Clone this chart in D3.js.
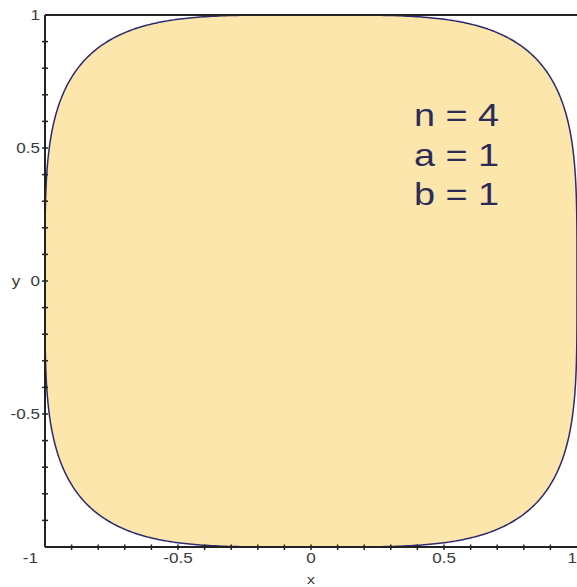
<!DOCTYPE html>
<html>
<head>
<meta charset="utf-8">
<script src="https://cdn.jsdelivr.net/npm/d3@7"></script>
<style>
  html, body { margin: 0; padding: 0; background: #ffffff; }
  svg { display: block; }
</style>
</head>
<body>
<script>
// Superellipse |x/a|^n + |y/b|^n = 1
const n = 4;
const a = 1;
const b = 1;
const paramLabels = ["n = " + n, "a = " + a, "b = " + b];

const minorTicks = [-0.9, -0.8, -0.7, -0.6, -0.5, -0.4, -0.3, -0.2, -0.1, 0,
                    0.1, 0.2, 0.3, 0.4, 0.5, 0.6, 0.7, 0.8, 0.9];
const xTickLabels = [{v: -0.5, t: "-0.5"}, {v: 0, t: "0"}, {v: 0.5, t: "0.5"}];
const yTickLabels = [{v: 1, t: "1"}, {v: 0.5, t: "0.5"}, {v: 0, t: "0"}, {v: -0.5, t: "-0.5"}];
const cornerLabel = "-1";
const rightLabel = "1";
const sampleCount = 720;

const W = 577, H = 587;
const x = d3.scaleLinear().domain([-1, 1]).range([45, 577]);
const y = d3.scaleLinear().domain([-1, 1]).range([547, 15]);

const svg = d3.select("body").append("svg")
  .attr("width", W).attr("height", H);

// Boundary points of the superellipse, traced by angle
const pts = d3.range(sampleCount + 1).map(i => {
  const t = 2 * Math.PI * i / sampleCount;
  const c = Math.cos(t), s = Math.sin(t);
  return [
    a * Math.sign(c) * Math.pow(Math.abs(c), 2 / n),
    b * Math.sign(s) * Math.pow(Math.abs(s), 2 / n)
  ];
});

const line = d3.line().x(d => x(d[0])).y(d => y(d[1]));

svg.append("path")
  .attr("d", line(pts) + "Z")
  .attr("fill", "#fce6ab")
  .attr("stroke", "#2c2a70")
  .attr("stroke-width", 1.5);

// Frame: left and bottom axes plus top edge
const axisColor = "#222222";
svg.append("line").attr("x1", x(-1)).attr("x2", x(-1)).attr("y1", y(1)).attr("y2", y(-1))
  .attr("stroke", axisColor).attr("stroke-width", 2);
svg.append("line").attr("x1", x(-1)).attr("x2", x(1)).attr("y1", y(-1)).attr("y2", y(-1))
  .attr("stroke", axisColor).attr("stroke-width", 2);
svg.append("line").attr("x1", x(-1)).attr("x2", x(1)).attr("y1", y(1)).attr("y2", y(1))
  .attr("stroke", axisColor).attr("stroke-width", 2);

// Ticks crossing the axes
svg.append("g").selectAll("line").data(minorTicks).join("line")
  .attr("x1", x(-1) - 3).attr("x2", x(-1) + 3)
  .attr("y1", d => y(d)).attr("y2", d => y(d))
  .attr("stroke", axisColor).attr("stroke-width", 1.5);
svg.append("g").selectAll("line").data(minorTicks).join("line")
  .attr("y1", y(-1) - 2.5).attr("y2", y(-1) + 3)
  .attr("x1", d => x(d)).attr("x2", d => x(d))
  .attr("stroke", axisColor).attr("stroke-width", 1.5);

const labelFont = "'Liberation Sans', Arial, sans-serif";
const labelColor = "#3a3a3a";
const stretch = 1.22;

// Text placed at (px, py), widened horizontally
function wideText(sel, px, py, size, anchor, color) {
  return sel
    .attr("transform", (d, i) => `translate(${px(d, i)},${py(d, i)}) scale(${stretch},1)`)
    .attr("text-anchor", anchor)
    .attr("font-family", labelFont).attr("font-size", size)
    .attr("fill", color);
}

wideText(svg.append("g").selectAll("text").data(yTickLabels).join("text"),
  () => x(-1) - 5, d => y(d.v) + 5, 14, "end", labelColor)
  .text(d => d.t);

wideText(svg.append("g").selectAll("text").data(xTickLabels).join("text"),
  d => x(d.v), () => 563, 14, "middle", labelColor)
  .text(d => d.t);

wideText(svg.append("text").datum(cornerLabel),
  () => x(-1) - 7, () => 563, 14, "end", labelColor)
  .text(d => d);

wideText(svg.append("text").datum(rightLabel),
  () => W, () => 563, 14, "end", labelColor)
  .text(d => d);

// Axis titles
wideText(svg.append("text").datum("y"),
  () => 16, () => y(0) + 5, 14, "middle", labelColor)
  .text(d => d);
wideText(svg.append("text").datum("x"),
  () => x(0), () => 584, 13, "middle", labelColor)
  .text(d => d);

// Parameter annotation
wideText(svg.append("g").selectAll("text").data(paramLabels).join("text"),
  () => 414, (d, i) => 126 + i * 39.5, 31, "start", "#2b2d58")
  .text(d => d);
</script>
</body>
</html>
